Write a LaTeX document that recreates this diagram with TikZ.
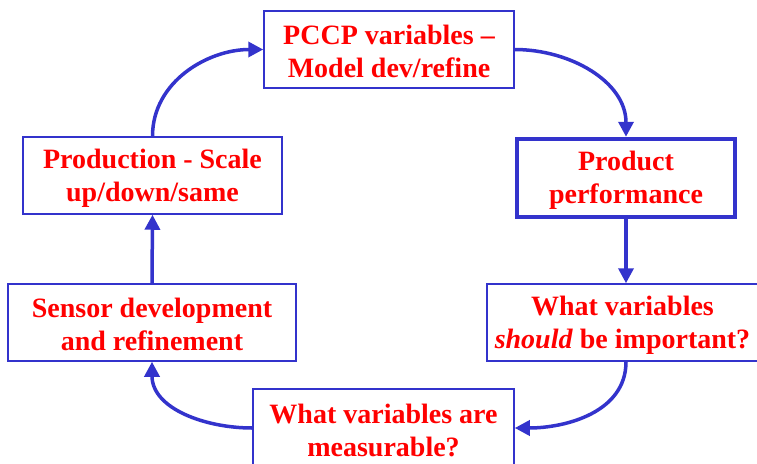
\documentclass[tikz,border=0pt]{standalone}
\usepackage{fontspec}
\setmainfont{Liberation Serif}
\usetikzlibrary{arrows.meta}
\definecolor{bblue}{RGB}{51,51,204}
\definecolor{tred}{RGB}{255,0,0}
\newcommand{\topstrut}{\rule{0pt}{24pt}}
\tikzset{
  box/.style={draw=bblue, line width=1.5pt, fill=white, inner sep=0pt, align=center,
    text=tred, font=\fontsize{28}{33}\selectfont\bfseries},
  thickbox/.style={box, line width=4.5pt},
  conn/.style={draw=bblue, line width=3.5pt, -{Triangle[length=15pt,width=15pt]}}
}
\begin{document}
\begin{tikzpicture}[x=1pt,y=-1pt]
\useasboundingbox (0,0) rectangle (757,463);
\clip (0,0) rectangle (757,463);
\fill[white] (0,0) rectangle (757,463);
\node[box, minimum width=250pt, minimum height=77pt] (b1) at (389,49.5) {\topstrut PCCP variables --\\Model dev/refine};
\node[thickbox, minimum width=218pt, minimum height=78pt] (b2) at (626,178) {\topstrut Product\\performance};
\node[box, minimum width=271pt, minimum height=77pt] (b3) at (622.5,322.5) {\topstrut What variables\\\textit{should} be important?};
\node[box, minimum width=261pt, minimum height=78pt] (b4) at (383.5,428) {\topstrut What variables are\\measurable?};
\node[box, minimum width=288pt, minimum height=77pt] (b5) at (152,322.5) {\topstrut Sensor development\\and refinement};
\node[box, minimum width=259pt, minimum height=77pt] (b6) at (152.5,175.5) {\topstrut Production - Scale\\up/down/same};
\draw[conn] (b6.north) to[out=90,in=180] (b1.west);
\draw[conn] (b1.east) to[out=0,in=90] (b2.north);
\draw[conn] (b2.south) -- (b3.north -| b2.south);
\draw[conn] (b3.south -| b2.south) to[out=-90,in=0] (b4.east);
\draw[conn] (b4.west) to[out=180,in=-90] (b5.south);
\draw[conn] (b5.north) -- (b6.south);
\end{tikzpicture}
\end{document}
